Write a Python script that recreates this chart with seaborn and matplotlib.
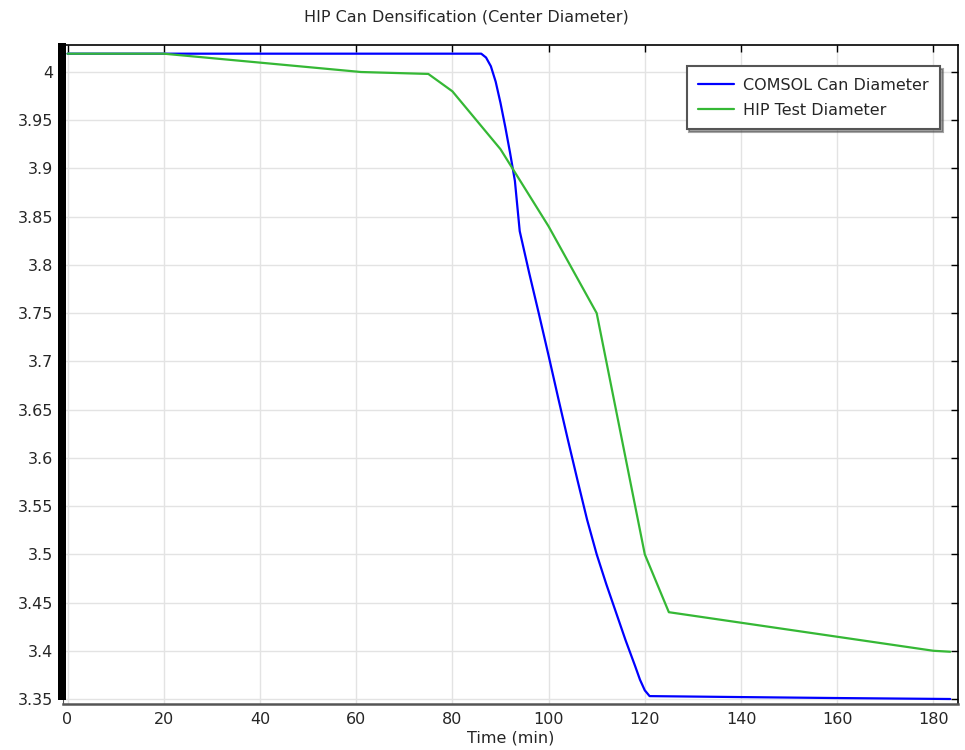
import pandas as pd
import matplotlib
matplotlib.use("Agg")
import matplotlib.pyplot as plt
import seaborn as sns
from matplotlib.patches import Rectangle
from matplotlib.ticker import FuncFormatter, MultipleLocator


# =========================
# data
# =========================
comsol_time = [0, 86, 87, 88, 89, 90, 91, 92, 93, 94, 96, 98, 100, 102, 104,
               106, 108, 110, 112, 114, 116, 118, 119, 120, 121, 140, 160, 183.5]
comsol_diam = [4.019, 4.019, 4.015, 4.006, 3.990, 3.968, 3.943, 3.916, 3.887,
               3.835, 3.791, 3.749, 3.706, 3.662, 3.619, 3.577, 3.536, 3.500,
               3.469, 3.440, 3.411, 3.384, 3.370, 3.359, 3.353, 3.352, 3.351, 3.350]

hip_time = [0, 20, 61, 75, 80, 90, 100, 110, 120, 125, 180, 183.5]
hip_diam = [4.019, 4.019, 4.000, 3.998, 3.980, 3.920, 3.840, 3.750, 3.500,
            3.440, 3.400, 3.399]

x_ticks = list(range(0, 181, 20))

comsol_df = pd.DataFrame({"time": comsol_time, "diam": comsol_diam})
hip_df = pd.DataFrame({"time": hip_time, "diam": hip_diam})


# =========================
# plot
# =========================
sns.set_style("white")
plt.rcParams["font.family"] = ["DejaVu Sans"]
text_color = "#262626"

fig = plt.figure(figsize=(9.65, 7.5), dpi=100)
ax = fig.add_axes([0.0653, 0.0613, 0.9274, 0.8787])

sns.lineplot(data=comsol_df, x="time", y="diam", ax=ax, color="#0000ff",
             linewidth=1.6, label="COMSOL Can Diameter")
sns.lineplot(data=hip_df, x="time", y="diam", ax=ax, color="#35b835",
             linewidth=1.6, label="HIP Test Diameter")

ax.set_xlim(-0.94, 185.1)
ax.set_ylim(3.3448, 4.028)
ax.set_xticks(x_ticks)
ax.yaxis.set_major_locator(MultipleLocator(0.05))
ax.yaxis.set_major_formatter(FuncFormatter(lambda v, p: f"{round(v, 3):g}"))

ax.grid(True, color="#e3e3e3", linewidth=1.0)
ax.set_axisbelow(True)
ax.tick_params(direction="in", length=5, width=1, top=True, right=True,
               labelsize=11.5, colors="black", labelcolor=text_color, pad=6)
ax.tick_params(axis="y", pad=7)

for side in ["top", "right"]:
    ax.spines[side].set_color("black")
    ax.spines[side].set_linewidth(1.2)
ax.spines["bottom"].set_color("#555555")
ax.spines["bottom"].set_linewidth(1.8)
ax.spines["left"].set_color("#555555")

# thick black bar along the left edge, as in the reference
ax.add_patch(Rectangle((-0.0056, 0.006), 0.0084, 0.997, transform=ax.transAxes,
                       facecolor="black", edgecolor="none", clip_on=False, zorder=5))

ax.set_xlabel("Time (min)", fontsize=11.5, labelpad=2, color=text_color)
ax.set_ylabel("")
fig.text(466 / 965, 1 - 17 / 750, "HIP Can Densification (Center Diameter)",
         ha="center", va="center", fontsize=11.5, color=text_color)

leg = ax.legend(loc="upper right", bbox_to_anchor=(0.980, 0.968), fontsize=11.5,
                frameon=True, fancybox=False, shadow=True, borderpad=0.72,
                borderaxespad=0, handlelength=2.25, handletextpad=0.55,
                labelspacing=0.65)
leg.get_frame().set_edgecolor("#555555")
leg.get_frame().set_linewidth(1.5)
for t in leg.get_texts():
    t.set_color(text_color)

plt.savefig("out.png", dpi=100)
